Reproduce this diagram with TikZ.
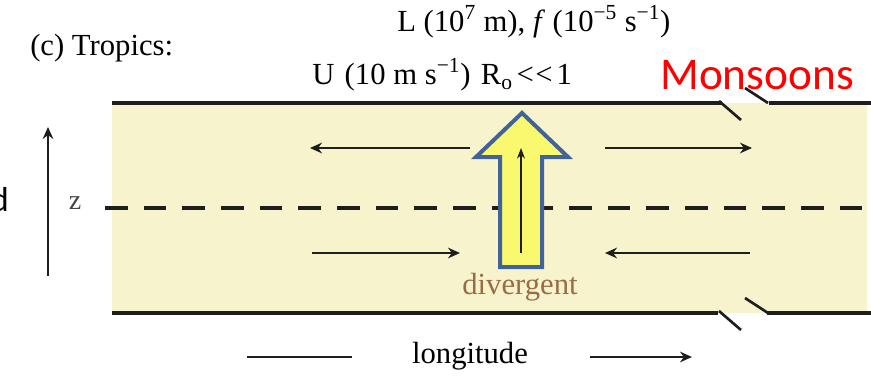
\documentclass[tikz,border=0pt]{standalone}
\usepackage{fontspec}
\setmainfont{Liberation Serif}
\newfontfamily\calibri{Carlito}
\usetikzlibrary{arrows.meta,calc,positioning}
\definecolor{bandyellow}{HTML}{F7F4CD}
\definecolor{plumeyellow}{HTML}{FAF86E}
\definecolor{plumeblue}{HTML}{41639A}
\definecolor{divbrown}{HTML}{9A6B47}
\definecolor{inkgray}{HTML}{1E1E1E}
\definecolor{zgray}{HTML}{444444}
\begin{document}
\begin{tikzpicture}[x=0.75pt,y=-0.75pt,
  flow/.style={-{Stealth[length=9pt,width=8pt]},line width=1.5pt,inkgray},
  wall/.style={line width=3pt,inkgray},
  lbl/.style={font=\fontsize{23}{25}\selectfont,inner sep=0pt}]

\useasboundingbox (0,0) rectangle (871,375);

% band
\fill[bandyellow] (112,103) rectangle (867,313);
\draw[wall] (112,103) -- (722,103);
\draw[wall] (769,103) -- (871,103);
\draw[wall] (112,313) -- (718,313);
\draw[wall] (767,313) -- (871,313);
\foreach \y in {103,313}{
  \draw[line width=2pt,inkgray] (719,\y-2) -- (741,\y+17);
  \draw[line width=2pt,inkgray] (745,\y-15) -- (768,\y);
}
\draw[line width=3pt,inkgray,dash pattern=on 17pt off 12pt] (105,208) -- (871,208);

% labels
\node[lbl,anchor=west] (region) at (30,48) {(c) Tropics:};
\node[lbl,anchor=west] (scale) at (397,22)
  {L (10\textsuperscript{7} m), \textit{f} (10\textsuperscript{−5} s\textsuperscript{−1})};
\node[lbl,anchor=west] (speed) at (312,75)
  {U\ \kern2pt(10 m s\textsuperscript{−1})\ \kern2pt R\textsubscript{o}\kern3pt<\kern1pt<\kern3pt 1};
\node[red,font=\calibri\fontsize{34}{34}\selectfont,anchor=west,inner sep=0pt] (monsoon) at (660,75) {Monsoons};
\node[font=\calibri\fontsize{26}{26}\selectfont,anchor=east,inner sep=0pt] (cut) at (9,200) {d};

% height axis
\node[font=\fontsize{21}{21}\selectfont,zgray,inner sep=0pt] (zlab) at (75,203) {z};
\coordinate (zbot) at (48,276);
\coordinate (ztop) at (48,127);
\draw[flow] (zbot) -- (ztop);

% flows
\draw[flow] (470,148) -- (310,148);
\draw[flow] (605,148) -- (752,148);
\draw[flow] (312,253) -- (460,253);
\draw[flow] (750,253) -- (605,253);

% rising branch
\draw[plumeblue,fill=plumeyellow,line width=3pt,line join=miter]
  (500,267) -- (500,157) -- (476,157) -- (522,113) -- (568,157)
  -- (542,157) -- (542,267) -- cycle;
\draw[-{Stealth[length=8pt,width=6pt]},line width=0.8pt,inkgray] (521,253) -- (521,148);
\node[lbl,divbrown] (div) at (520,287) {divergent};

% longitude axis
\node[lbl] (lon) at (470,356) {longitude};
\draw[line width=1.3pt,inkgray] (247,357) -- (352,357);
\draw[flow] (590,357) -- (692,357);

\end{tikzpicture}
\end{document}
